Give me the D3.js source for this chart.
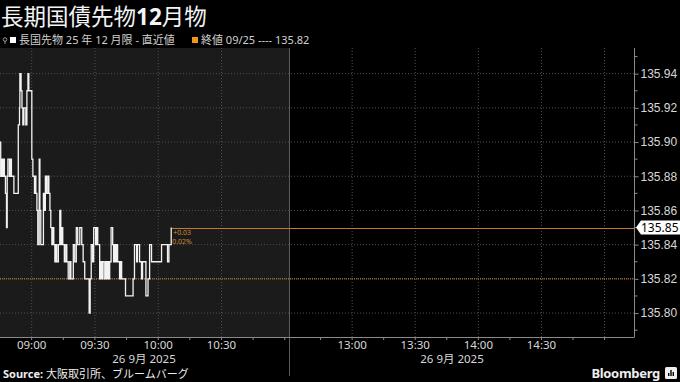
<!DOCTYPE html>
<html lang="ja">
<head>
<meta charset="UTF-8">
<title>長期国債先物12月物</title>
<script src="https://d3js.org/d3.v7.min.js"></script>
<style>
  body { margin: 0; padding: 0; background: #000; }
  svg { display: block; font-family: "Noto Sans", "Noto Sans CJK JP", sans-serif; }
  .grid line { stroke: #505050; stroke-dasharray: 1,2; }
  .axis text { fill: #d8d8d8; font-size: 12px; }
  .axis path, .axis line { stroke: #8a8a8a; }
</style>
</head>
<body>
<div id="chart"></div>
<script>
// tick data, 26 Sep 2025 morning session
const times = [
  "08:45:00","08:45:20","08:45:45","08:46:10","08:46:40","08:47:05","08:47:35","08:48:05","08:48:25","08:48:45",
  "08:49:30","08:50:00","08:50:25","08:51:35","08:53:40","08:54:15","08:54:25","08:55:00","08:55:25","08:55:50",
  "08:56:20","08:57:15","08:57:45","08:58:15","08:58:40","09:00:05","09:00:35","09:01:20","09:01:30","09:02:00",
  "09:02:30","09:02:55","09:03:35","09:03:55","09:04:20","09:05:35","09:06:00","09:06:30","09:07:00","09:07:40",
  "09:08:10","09:08:40","09:09:05","09:09:35","09:10:05","09:10:30","09:11:00","09:11:30","09:11:55","09:12:40",
  "09:13:20","09:13:50","09:14:20","09:14:45","09:15:30","09:16:10","09:16:40","09:17:20","09:18:05","09:18:35",
  "09:19:45","09:20:25","09:21:10","09:21:50","09:22:50","09:23:45","09:24:25","09:25:10","09:27:15","09:27:45",
  "09:28:15","09:28:55","09:29:25","09:30:20","09:30:50","09:31:20","09:32:15","09:32:45","09:33:10","09:33:40",
  "09:34:25","09:35:05","09:35:35","09:36:00","09:36:30","09:37:00","09:37:40","09:38:25","09:38:50","09:39:20",
  "09:39:50","09:40:15","09:40:45","09:41:40","09:42:10","09:42:40","09:44:30","09:48:05","09:48:45","09:49:45",
  "09:50:10","09:51:10","09:52:05","09:52:35","09:54:10","09:55:10","09:55:55","09:56:50","10:01:35","10:04:25",
  "10:05:05","10:06:10"
];
const prices = [
  135.90,135.88,135.89,135.88,135.89,135.88,135.87,135.85,135.88,135.89,
  135.88,135.89,135.88,135.87,135.91,135.92,135.94,135.93,135.92,135.91,
  135.92,135.91,135.93,135.94,135.93,135.89,135.88,135.87,135.88,135.87,
  135.86,135.84,135.89,135.86,135.84,135.87,135.86,135.88,135.87,135.88,
  135.87,135.86,135.85,135.84,135.85,135.84,135.83,135.84,135.83,135.84,
  135.86,135.84,135.85,135.84,135.83,135.84,135.83,135.82,135.83,135.82,
  135.84,135.83,135.85,135.84,135.85,135.84,135.83,135.82,135.80,135.82,
  135.84,135.83,135.85,135.84,135.85,135.84,135.82,135.83,135.82,135.83,
  135.82,135.83,135.82,135.83,135.82,135.83,135.85,135.84,135.83,135.84,
  135.83,135.84,135.83,135.82,135.83,135.82,135.81,135.82,135.84,135.83,
  135.84,135.83,135.82,135.83,135.81,135.82,135.84,135.83,135.84,135.83,
  135.84,135.85
];
const prevClose = 135.82;
const lastPrice = 135.85;
const change = "+0.03";
const changePct = "0.02%";
const yTicks = [135.80, 135.82, 135.84, 135.86, 135.88, 135.90, 135.92, 135.94];
const yMinor = [135.79, 135.81, 135.83, 135.85, 135.87, 135.89, 135.91, 135.93, 135.95];
const xLabels = ["09:00", "09:30", "10:00", "10:30", "13:00", "13:30", "14:00", "14:30"];
const xTickMarks = ["09:00","09:15","09:30","09:45","10:00","10:15","10:30","10:45","11:00",
                    "12:45","13:00","13:15","13:30","13:45","14:00","14:15","14:30","14:45","15:00"];
const xGrid = ["09:00","09:30","10:00","10:30","13:00","13:30","14:00","14:30","15:00"];
const dateLabel = "26 9月 2025";

const W = 680, H = 382;
const plotTop = 48, plotBottom = 337, plotRight = 634;
const parse = d3.timeParse("%H:%M:%S");
const t = s => parse(s.length === 5 ? s + ":00" : s);

const x = d3.scaleTime()
  .domain([t("08:45"), t("11:02"), t("12:30"), t("15:14")])
  .range([0, 289, 289, plotRight]);
const y = d3.scaleLinear().domain([135.786, 135.955]).range([plotBottom, plotTop]);

const svg = d3.select("#chart").append("svg").attr("width", W).attr("height", H);

// session panels
svg.append("rect").attr("x", 0).attr("y", plotTop).attr("width", x(t("11:02")))
  .attr("height", plotBottom - plotTop).attr("fill", "#1b1b1b");

// grid
const grid = svg.append("g").attr("class", "grid");
grid.selectAll(".h").data(yTicks).join("line")
  .attr("x1", 0).attr("x2", plotRight).attr("y1", d => y(d)).attr("y2", d => y(d));
grid.selectAll(".v").data(xGrid).join("line")
  .attr("x1", d => x(t(d))).attr("x2", d => x(t(d))).attr("y1", plotTop).attr("y2", plotBottom);

// session separator
svg.append("line").attr("x1", 289.5).attr("x2", 289.5).attr("y1", plotTop).attr("y2", 376)
  .attr("stroke", "#5a5a5a");

// previous close
svg.append("line").attr("x1", 0).attr("x2", plotRight).attr("y1", y(prevClose)).attr("y2", y(prevClose))
  .attr("stroke", "#d9862a").attr("stroke-dasharray", "1,1").attr("stroke-width", 1);

// last price line
const lastT = t(times[times.length - 1]);
svg.append("line").attr("x1", x(lastT)).attr("x2", plotRight).attr("y1", Math.round(y(lastPrice)) + 0.5)
  .attr("y2", Math.round(y(lastPrice)) + 0.5)
  .attr("stroke", "#c8782a").attr("stroke-width", 1);

// price line
const line = d3.line().x((d, i) => x(t(d))).y((d, i) => y(prices[i])).curve(d3.curveStepAfter);
svg.append("path").datum(times).attr("d", line)
  .attr("fill", "none").attr("stroke", "#f2f2f2").attr("stroke-width", 1.3);

// change annotation
svg.append("text").attr("x", x(lastT) + 2).attr("y", y(lastPrice) + 7).text(change)
  .attr("fill", "#d08a35").attr("font-size", 7);
svg.append("text").attr("x", x(lastT) + 1).attr("y", y(lastPrice) + 16).text(changePct)
  .attr("fill", "#d08a35").attr("font-size", 7);

// y axis
const yAxis = svg.append("g").attr("class", "axis").attr("transform", `translate(${plotRight + 0.5},0)`)
  .call(d3.axisRight(y).tickValues(yTicks).tickFormat(d3.format(".2f")).tickSize(4).tickPadding(2));
yAxis.select(".domain").attr("d", `M0,${plotTop}V${plotBottom}`);
yAxis.selectAll(".minor").data(yMinor.filter(d => y(d) > plotTop)).join("line").attr("class", "minor")
  .attr("x1", 0).attr("x2", 3).attr("y1", d => y(d)).attr("y2", d => y(d)).attr("stroke", "#8a8a8a");

// last price badge
const by = y(lastPrice);
svg.append("path")
  .attr("d", `M${plotRight + 2},${by} L${plotRight + 7},${by - 7} H680 V${by + 7} H${plotRight + 7} Z`)
  .attr("fill", "#fff");
svg.append("text").attr("x", plotRight + 7).attr("y", by + 4.5).text(d3.format(".2f")(lastPrice))
  .attr("fill", "#000").attr("font-size", 12);

// x axis
const xAxis = svg.append("g").attr("class", "axis");
xAxis.append("line").attr("x1", 0).attr("x2", plotRight + 0.5).attr("y1", plotBottom + 0.5).attr("y2", plotBottom + 0.5)
  .attr("stroke", "#8a8a8a");
xAxis.selectAll(".tk").data(xTickMarks).join("line")
  .attr("x1", d => x(t(d))).attr("x2", d => x(t(d)))
  .attr("y1", plotBottom).attr("y2", plotBottom + 3).attr("stroke", "#8a8a8a");
xAxis.selectAll(".lb").data(xLabels).join("text")
  .attr("x", d => x(t(d))).attr("y", plotBottom + 12).attr("text-anchor", "middle")
  .style("font-size", "11.5px").text(d => d);
xAxis.selectAll(".dt").data([144, 452]).join("text")
  .attr("x", d => d).attr("y", plotBottom + 26).attr("text-anchor", "middle")
  .style("font-size", "11.5px").text(dateLabel);

// title
const title = svg.append("text").attr("x", 1).attr("y", 25).attr("fill", "#f4f4f4").attr("font-size", 22.5)
  .attr("font-family", "'Noto Sans CJK JP', sans-serif");
title.append("tspan").text("長期国債先物");
title.append("tspan").text("12").attr("font-weight", "bold").attr("font-family", "'Noto Sans', sans-serif");
title.append("tspan").text("月物");

// legend
const lg = svg.append("g").attr("font-size", 11).attr("fill", "#d0d0d0");
lg.append("circle").attr("cx", 5).attr("cy", 39.5).attr("r", 1.8).attr("fill", "none").attr("stroke", "#999");
lg.append("line").attr("x1", 5).attr("x2", 5).attr("y1", 41).attr("y2", 44).attr("stroke", "#999");
lg.append("rect").attr("x", 10).attr("y", 37).attr("width", 6).attr("height", 6).attr("fill", "#fff");
lg.append("text").attr("x", 19).attr("y", 44).text("長国先物 25 年 12 月限 - 直近値");
lg.append("rect").attr("x", 192).attr("y", 37).attr("width", 6).attr("height", 6).attr("fill", "#f0961e");
lg.append("text").attr("x", 201).attr("y", 44).text("終値 09/25 ---- 135.82");

// footer
const ft = svg.append("text").attr("x", 3).attr("y", 378).attr("font-size", 11).attr("fill", "#eee");
ft.append("tspan").text("Source: ").attr("font-weight", "bold");
ft.append("tspan").text("大阪取引所、ブルームバーグ");
svg.append("text").attr("x", 660).attr("y", 378).attr("text-anchor", "end").attr("font-size", 13)
  .attr("font-weight", "bold").attr("fill", "#eee").attr("letter-spacing", "-0.3").text("Bloomberg");
svg.append("rect").attr("x", 665).attr("y", 367).attr("width", 12).attr("height", 12).attr("rx", 1.5).attr("fill", "#eee");
svg.selectAll(".bb").data([3, 6, 4]).join("rect")
  .attr("x", (d, i) => 668 + i * 2.3).attr("y", d => 376 - d).attr("width", 1.4).attr("height", d => d).attr("fill", "#000");
</script>
</body>
</html>
